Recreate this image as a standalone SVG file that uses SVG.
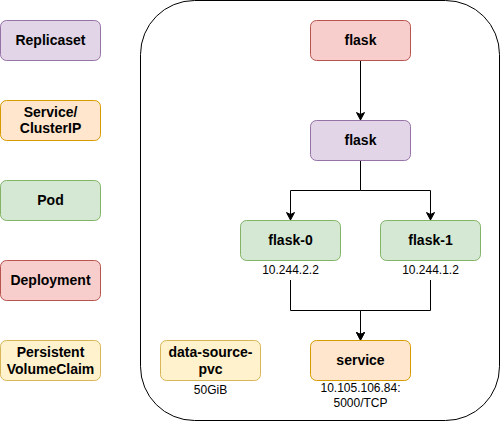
<svg xmlns="http://www.w3.org/2000/svg" width="501" height="421" viewBox="0 0 501 421">
<style>
.b{stroke-width:1}
.rs{fill:#e1d5e7;stroke:#9673a6}
.sv{fill:#ffe6cc;stroke:#d79b00}
.pd{fill:#d5e8d4;stroke:#82b366}
.dp{fill:#f8cecc;stroke:#b85450}
.pv{fill:#fff2cc;stroke:#d6b656}
.t{font-family:"Liberation Sans",Arial,sans-serif;font-size:14px;font-weight:bold;fill:#000;text-anchor:middle}
.s{font-family:"Liberation Sans",Arial,sans-serif;font-size:12px;fill:#000;text-anchor:middle}
.e{fill:none;stroke:#000;stroke-width:1}
</style>
<defs>
<marker id="arr" markerWidth="10" markerHeight="10" refX="9" refY="5" orient="auto" markerUnits="userSpaceOnUse" viewBox="0 0 10 10">
<path d="M9,5 L1.5,1 L3.5,5 L1.5,9 Z" fill="#000" stroke="#000" stroke-width="1"/>
</marker>
</defs>
<rect width="501" height="421" fill="#fff"/>
<g id="container"><rect x="140.5" y="0.5" width="359" height="420" rx="54" fill="#fff" stroke="#000"/></g>

<g id="legend-replicaset"><rect class="rs" x="0.5" y="20.5" width="100" height="40" rx="6"/><text class="t" x="50.5" y="45">Replicaset</text></g>
<g id="legend-service"><rect class="sv" x="0.5" y="100.5" width="100" height="40" rx="6"/><text class="t" x="50.5" y="117.3">Service/</text><text class="t" x="50.5" y="133.3">ClusterIP</text></g>
<g id="legend-pod"><rect class="pd" x="0.5" y="180.5" width="100" height="40" rx="6"/><text class="t" x="50.5" y="205">Pod</text></g>
<g id="legend-deployment"><rect class="dp" x="0.5" y="260.5" width="100" height="40" rx="6"/><text class="t" x="50.5" y="285">Deployment</text></g>
<g id="legend-pvc"><rect class="pv" x="0.5" y="340.5" width="100" height="40" rx="6"/><text class="t" x="50.5" y="357.3">Persistent</text><text class="t" x="50.5" y="373.5">VolumeClaim</text></g>

<g id="connectors">
<path class="e" d="M360.5,60.5 V120" marker-end="url(#arr)"/>
<path class="e" d="M360.5,160.5 V190.5 H290.5 V220" marker-end="url(#arr)"/>
<path class="e" d="M360.5,190.5 H430.5 V220" marker-end="url(#arr)"/>
<path class="e" d="M290.5,280 V310.5 H360.5 V340" marker-end="url(#arr)"/>
<path class="e" d="M430.5,280 V310.5 H360.5 V340" marker-end="url(#arr)"/>
</g>

<g id="deployment-flask"><rect class="dp" x="310.5" y="20.5" width="100" height="40" rx="6"/><text class="t" x="360.5" y="45">flask</text></g>
<g id="replicaset-flask"><rect class="rs" x="310.5" y="120.5" width="100" height="40" rx="6"/><text class="t" x="360.5" y="145">flask</text></g>
<g id="pod-flask-0"><rect class="pd" x="240.5" y="220.5" width="100" height="40" rx="6"/><text class="t" x="290.5" y="245">flask-0</text><text class="s" x="290.5" y="274.3">10.244.2.2</text></g>
<g id="pod-flask-1"><rect class="pd" x="380.5" y="220.5" width="100" height="40" rx="6"/><text class="t" x="430.5" y="245">flask-1</text><text class="s" x="430.5" y="274.3">10.244.1.2</text></g>
<g id="service"><rect class="sv" x="310.5" y="340.5" width="100" height="40" rx="6"/><text class="t" x="360.5" y="365">service</text><text class="s" x="360.5" y="392.2">10.105.106.84:</text><text class="s" x="360.5" y="406.5">5000/TCP</text></g>
<g id="pvc"><rect class="pv" x="160.5" y="340.5" width="100" height="40" rx="6"/><text class="t" x="210.5" y="357.3">data-source-</text><text class="t" x="210.5" y="373.5">pvc</text><text class="s" x="210.5" y="394">50GiB</text></g>
</svg>
